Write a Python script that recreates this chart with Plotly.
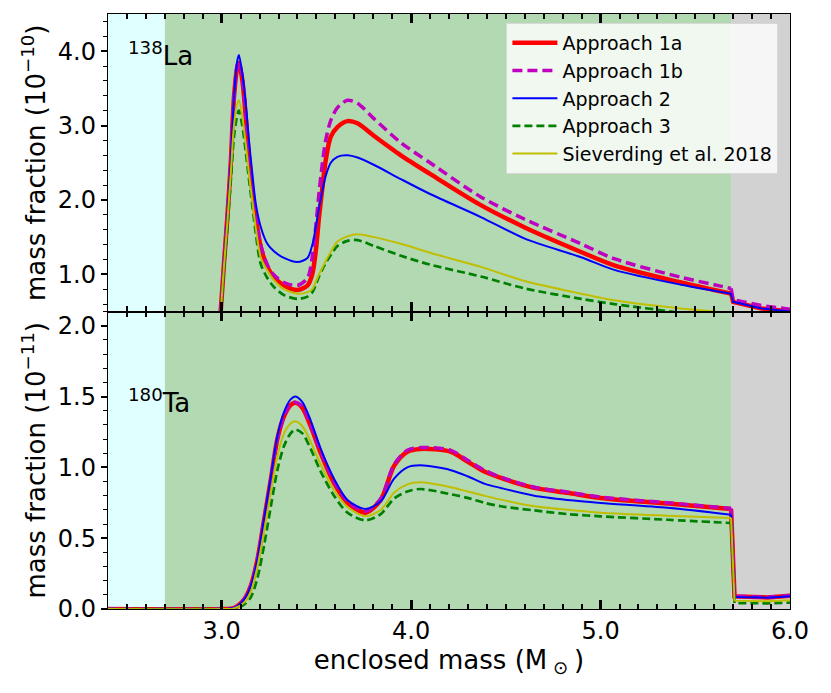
import plotly.graph_objects as go
from plotly.subplots import make_subplots

# enclosed mass grid (M_sun) for the 138La panel
mass_la = [2.98, 2.995, 3.012, 3.030, 3.048, 3.065, 3.083, 3.091, 3.109, 3.127,
           3.144, 3.162, 3.180, 3.206, 3.241, 3.276, 3.329, 3.400, 3.453, 3.479,
           3.497, 3.514, 3.532, 3.549, 3.576, 3.611, 3.664, 3.717, 3.805, 3.946,
           4.10, 4.368, 4.60, 4.897, 5.072, 5.425, 5.60, 5.689, 5.70, 5.85, 6.00]

# 138La mass fraction, units of 1e-10
la_1a = [0.10, 0.51, 1.14, 1.77, 2.49, 3.38, 3.79, 3.84, 3.61, 3.12,
         2.58, 2.13, 1.77, 1.37, 1.10, 0.96, 0.85, 0.79, 0.85, 1.01,
         1.32, 1.77, 2.17, 2.53, 2.85, 2.98, 3.06, 3.03, 2.86, 2.60,
         2.35, 1.93, 1.63, 1.30, 1.12, 0.89, 0.79, 0.74, 0.63, 0.54, 0.50]
la_1b = [0.10, 0.51, 1.14, 1.77, 2.49, 3.38, 3.82, 3.86, 3.63, 3.14,
         2.60, 2.15, 1.79, 1.40, 1.13, 0.99, 0.89, 0.85, 0.95, 1.25,
         1.65, 2.10, 2.50, 2.80, 3.07, 3.24, 3.34, 3.30, 3.09, 2.77,
         2.50, 2.04, 1.74, 1.41, 1.21, 0.96, 0.86, 0.81, 0.66, 0.58, 0.53]
la_2 = [0.10, 0.51, 1.14, 1.77, 2.49, 3.38, 3.88, 3.95, 3.70, 3.30,
        2.80, 2.35, 1.95, 1.64, 1.41, 1.31, 1.22, 1.165, 1.22, 1.40,
        1.64, 1.90, 2.13, 2.32, 2.50, 2.58, 2.60, 2.57, 2.47, 2.28,
        2.08, 1.77, 1.48, 1.23, 1.06, 0.86, 0.78, 0.74, 0.63, 0.54, 0.50]
la_3 = [0.10, 0.48, 1.05, 1.62, 2.25, 2.85, 3.15, 3.20, 3.00, 2.65,
        2.28, 1.92, 1.55, 1.14, 0.95, 0.83, 0.72, 0.67, 0.70, 0.76,
        0.86, 0.97, 1.07, 1.15, 1.26, 1.38, 1.45, 1.46, 1.38, 1.25,
        1.13, 0.97, 0.81, 0.67, 0.60, 0.48, 0.40, 0.38, 0.35, 0.32, 0.30]
la_s18 = [0.10, 0.50, 1.10, 1.70, 2.35, 3.00, 3.30, 3.34, 3.12, 2.75,
          2.35, 1.98, 1.62, 1.23, 1.05, 0.92, 0.80, 0.74, 0.76, 0.80,
          0.90, 1.00, 1.09, 1.18, 1.30, 1.44, 1.51, 1.54, 1.50, 1.41,
          1.29, 1.10, 0.91, 0.74, 0.65, 0.54, 0.50, 0.48, 0.45, 0.42, 0.40]

# enclosed mass grid for the 180Ta panel
mass_ta = [2.40, 3.00, 3.065, 3.118, 3.153, 3.189, 3.224, 3.259, 3.294, 3.329,
           3.364, 3.39, 3.426, 3.47, 3.523, 3.593, 3.664, 3.76, 3.84, 3.91,
           3.98, 4.05, 4.21, 4.298, 4.386, 4.474, 4.65, 4.826, 5.00, 5.354,
           5.689, 5.707, 5.883, 6.00]

# 180Ta mass fraction, units of 1e-11
ta_1a = [0.0, 0.0, 0.007, 0.066, 0.16, 0.35, 0.63, 0.91, 1.20, 1.36,
         1.44, 1.455, 1.42, 1.29, 1.10, 0.89, 0.75, 0.68, 0.77, 1.01,
         1.11, 1.13, 1.11, 1.04, 0.97, 0.925, 0.855, 0.82, 0.784, 0.744,
         0.706, 0.089, 0.082, 0.094]
ta_1b = [0.0, 0.0, 0.007, 0.066, 0.16, 0.35, 0.63, 0.91, 1.20, 1.36,
         1.45, 1.46, 1.43, 1.30, 1.11, 0.90, 0.76, 0.69, 0.78, 1.02,
         1.12, 1.14, 1.12, 1.05, 0.98, 0.93, 0.86, 0.825, 0.79, 0.75,
         0.71, 0.09, 0.083, 0.095]
ta_2 = [0.0, 0.0, 0.007, 0.066, 0.16, 0.35, 0.64, 0.93, 1.22, 1.39,
        1.48, 1.50, 1.46, 1.33, 1.13, 0.92, 0.77, 0.706, 0.76, 0.92,
        1.00, 1.014, 0.98, 0.937, 0.885, 0.854, 0.80, 0.77, 0.749, 0.715,
        0.666, 0.085, 0.08, 0.09]
ta_3 = [0.0, 0.0, 0.0, 0.03, 0.08, 0.22, 0.45, 0.72, 0.98, 1.15,
        1.24, 1.266, 1.24, 1.13, 0.97, 0.80, 0.68, 0.626, 0.67, 0.78,
        0.83, 0.847, 0.81, 0.784, 0.75, 0.725, 0.696, 0.67, 0.654, 0.63,
        0.607, 0.042, 0.04, 0.045]
ta_s18 = [0.0, 0.0, 0.004, 0.045, 0.12, 0.30, 0.55, 0.82, 1.08, 1.24,
          1.31, 1.325, 1.29, 1.18, 1.02, 0.84, 0.72, 0.654, 0.70, 0.82,
          0.88, 0.894, 0.86, 0.83, 0.80, 0.772, 0.725, 0.70, 0.68, 0.659,
          0.643, 0.059, 0.055, 0.062]

series_names = ["Approach 1a", "Approach 1b", "Approach 2", "Approach 3",
                "Sieverding et al. 2018"]
la_series = [la_1a, la_1b, la_2, la_3, la_s18]
ta_series = [ta_1a, ta_1b, ta_2, ta_3, ta_s18]

# burning zones along the mass coordinate; the abundances jump at the inner edge
# of the last (grey) zone
zone_edges = [2.4, 2.7, 5.689, 6.0]
zone_colors = ["#e0ffff", "#b3d9b3", "#d2d2d2"]
jump_at = zone_edges[2]

styles = [
    dict(color="#ff0000", width=4.5, dash="solid"),
    dict(color="#bf00bf", width=3.5, dash="10px,5px"),
    dict(color="#0000ff", width=2, dash="solid"),
    dict(color="#008000", width=2.7, dash="8px,4px"),
    dict(color="#bfbf00", width=2, dash="solid"),
]

FONT = "DejaVu Sans"

fig = make_subplots(rows=2, cols=1, shared_xaxes=True, vertical_spacing=0)


def add_profile(xs, ys, name, st, row, legend):
    # smooth part inside the zones, straight segments across the jump
    inner = [i for i, x in enumerate(xs) if x <= jump_at]
    outer = [i for i, x in enumerate(xs) if x >= jump_at]
    fig.add_trace(go.Scatter(x=[xs[i] for i in inner], y=[ys[i] for i in inner],
                             mode="lines", name=name, legendgroup=name,
                             showlegend=legend,
                             line=dict(shape="spline", smoothing=0.8, **st)),
                  row=row, col=1)
    fig.add_trace(go.Scatter(x=[xs[i] for i in outer], y=[ys[i] for i in outer],
                             mode="lines", name=name, legendgroup=name,
                             showlegend=False, line=dict(shape="linear", **st)),
                  row=row, col=1)


for name, la, ta, st in zip(series_names, la_series, ta_series, styles):
    add_profile(mass_la, la, name, st, 1, True)
    add_profile(mass_ta, ta, name, st, 2, False)

# coloured zones behind both panels
for i in range(len(zone_colors)):
    fig.add_shape(type="rect", xref="x", yref="paper", x0=zone_edges[i],
                  x1=zone_edges[i + 1], y0=0, y1=1, fillcolor=zone_colors[i],
                  opacity=1, line_width=0, layer="below")

xax = dict(range=[2.4, 6.0], tick0=0, dtick=1, tickformat=".1f",
           ticks="inside", ticklen=9, tickwidth=2.6, tickcolor="black",
           mirror="allticks", showline=True, linecolor="black", linewidth=1.4,
           showgrid=False, zeroline=False,
           minor=dict(dtick=0.1, tick0=0, ticks="inside", ticklen=5, tickwidth=1.5,
                      tickcolor="black", showgrid=False),
           tickfont=dict(family=FONT, size=24, color="black"))
fig.update_xaxes(**xax)
fig.update_xaxes(showticklabels=False, row=1, col=1)
fig.update_xaxes(title=dict(text="enclosed mass (M<sub> ⊙ </sub>)", standoff=6,
                            font=dict(family=FONT, size=26, color="black")),
                 row=2, col=1)

yax = dict(ticks="outside", ticklen=6, tickwidth=1.7, tickcolor="black",
           showline=True, mirror=True, linecolor="black", linewidth=1.4,
           showgrid=False, zeroline=False, tickformat=".1f",
           tickfont=dict(family=FONT, size=24, color="black"))
fig.update_yaxes(**yax)
fig.update_yaxes(range=[0.5, 4.5], tick0=0, dtick=1,
                 minor=dict(dtick=0.2, tick0=0, ticks="outside", ticklen=4,
                            tickwidth=1.4, tickcolor="black", showgrid=False),
                 title=dict(text="mass fraction (10<sup>−10</sup>)", standoff=4,
                            font=dict(family=FONT, size=26, color="black")),
                 row=1, col=1)
fig.update_yaxes(range=[0, 2.1], tick0=0, dtick=0.5,
                 minor=dict(dtick=0.1, tick0=0, ticks="outside", ticklen=4,
                            tickwidth=1.4, tickcolor="black", showgrid=False),
                 title=dict(text="mass fraction (10<sup>−11</sup>)", standoff=4,
                            font=dict(family=FONT, size=26, color="black")),
                 row=2, col=1)

fig.add_annotation(text="<sup>138</sup>La", xref="x domain", yref="y domain",
                   x=0.026, y=0.865, xanchor="left", yanchor="middle", showarrow=False,
                   font=dict(family=FONT, size=26, color="black"))
fig.add_annotation(text="<sup>180</sup>Ta", xref="x2 domain", yref="y2 domain",
                   x=0.026, y=0.70, xanchor="left", yanchor="middle", showarrow=False,
                   font=dict(family=FONT, size=26, color="black"))

# the page body adds an 8px offset, so the figure is 8px smaller than the window
fig.update_layout(
    template="simple_white",
    width=823, height=685,
    margin=dict(l=100, r=41, t=6, b=84),
    paper_bgcolor="white", plot_bgcolor="white",
    font=dict(family=FONT, color="black"),
    legend=dict(x=0.983, y=0.985, xanchor="right", yanchor="top",
                bgcolor="rgba(255,255,255,0.8)", bordercolor="#d8d8d8", borderwidth=1,
                tracegroupgap=0, itemwidth=45,
                font=dict(family=FONT, size=19, color="black")),
)

fig.write_html("out.html")
